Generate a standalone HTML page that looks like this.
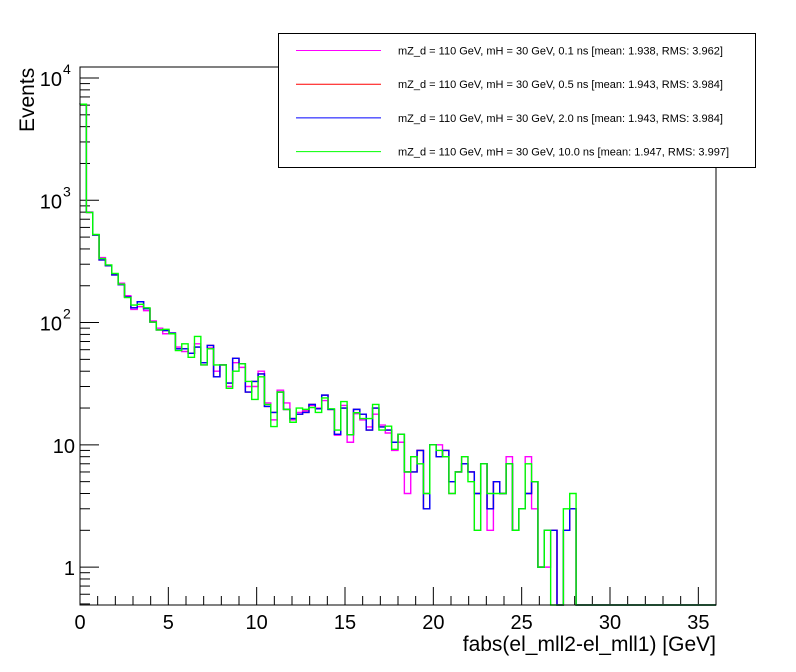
<!DOCTYPE html>
<html><head><meta charset="utf-8"><style>
body{margin:0;background:#fff;}
svg{display:block;font-family:"Liberation Sans",sans-serif;}
</style></head><body>
<svg id="chart" width="796" height="672" viewBox="0 0 796 672">
<rect width="796" height="672" fill="#fff"/>
<g id="axes"></g>
<g id="series"></g>
<rect x="80" y="67" width="636" height="538" fill="none" stroke="#000" stroke-width="1"/>
<g id="legend">
<rect x="278.5" y="33.5" width="477" height="134" fill="#fff" stroke="#000"/>
</g>
<text x="0" y="0" transform="translate(34,132) rotate(-90)" font-size="21">Events</text>
<text x="716" y="651" font-size="21" text-anchor="end">fabs(el_mll2-el_mll1) [GeV]</text>
</svg>
<script>
const nBins = 100;
const xMin = 0, xMax = 36;
const xTicks = [0,5,10,15,20,25,30,35];
const yDecades = [1,10,100,1000,10000];
const yLabels = ["1","10","10","10","10"];
const yExps = ["","","2","3","4"];
const legendLabels = [
 "mZ_d = 110 GeV, mH = 30 GeV, 0.1 ns [mean: 1.938, RMS: 3.962]",
 "mZ_d = 110 GeV, mH = 30 GeV, 0.5 ns [mean: 1.943, RMS: 3.984]",
 "mZ_d = 110 GeV, mH = 30 GeV, 2.0 ns [mean: 1.943, RMS: 3.984]",
 "mZ_d = 110 GeV, mH = 30 GeV, 10.0 ns [mean: 1.947, RMS: 3.997]"];
const seriesColors = ["#ff00ff","#ff0000","#0000ff","#00ff00"];
const greenVals = [6100,795,525,334,296,252,206,160,139,141,132,101,87,88,81,59,67,52,77,45,61,45,45,29,40,46,33,23.5,36,21.4,14.1,27,19.5,15.3,20,19.5,20.2,18.4,24.2,19.7,13.2,22.6,12.1,18.3,16.4,16.4,21.4,13.2,14.2,9.2,12.2,6,8,7,4,10,9,8,4,6,8,5,2,7,4,4,4,7,2,3,7,5,1,2,0,0,3,4,0,0,0,0,0,0,0,0,0,0,0,0,0,0,0,0,0,0,0,0,0,0,0,0];
const blueVals = [6100,795,520,325,292,245,204,162,132,148,130,101,87,86,82,61,61,56,63,47,65,36,45,32,51,46,27,33,38,20.6,18.4,27,19.5,16.4,17.8,18.4,21.4,19.7,25.5,19.5,12.2,20,12.1,19.5,17.8,13.2,20,14,13.2,10.5,12.2,6,6,9,3,10,8,9,5,6,7,6,4,7,3,5,4,7,2,3,4,5,1,2,2,0,2,3,0,0,0,0,0,0,0,0,0,0,0,0,0,0,0,0,0,0,0,0,0,0,0,0];
const redVals = blueVals;
const magentaVals = [6100,800,520,340,292,250,210,166,128,135,125,103,90,81,82,63,58,56,67,45,62,40,45,30,47,43,30,30,40,22,16,28,22,16,18.4,19,21,20,23,19.5,12,21,10.5,18,16,14,17.8,14.5,12.5,9,10.5,4,8,9,4,10,10,8,4,6,8,6,2,7,2,5,4,8,2,3,8,3,1,1,2,0,2,3,0,0,0,0,0,0,0,0,0,0,0,0,0,0,0,0,0,0,0,0,0,0,0,0];
const allSeries = [magentaVals, redVals, blueVals, greenVals];
const seriesNames = ["series-0p1ns","series-0p5ns","series-2p0ns","series-10p0ns"];

const X0=80, X1=716, Y0=605, Y1=67;
const logMin=Math.log10(0.49), logMax=4.09;
function xs(v){return X0+(v-xMin)/(xMax-xMin)*(X1-X0);}
function ys(v){ if(v<=0) return Y0; const y=Y0-(Math.log10(v)-logMin)/(logMax-logMin)*(Y0-Y1); return Math.min(Y0,y);}
const NS="http://www.w3.org/2000/svg";
function mk(tag,attrs,parent){const e=document.createElementNS(NS,tag);for(const k in attrs)e.setAttribute(k,attrs[k]);parent.appendChild(e);return e;}
const axes=document.getElementById('axes');
for(let i=0;i<=36;i++){
  const x=xs(i); const major=(i%5===0);
  const t=mk('line',{x1:x,x2:x,y1:Y0,y2:Y0-(major?18:9),stroke:'#000'},axes);
  
  
}
xTicks.forEach(v=>{
  const t=mk('text',{x:xs(v),y:Y0+24,'font-size':20,'text-anchor':'middle'},axes);
  t.textContent=v;
  
  
});
for(let d=-1;d<=4;d++){
  for(let m=1;m<=9;m++){
    const v=m*Math.pow(10,d); const lv=Math.log10(v);
    if(lv<logMin||lv>logMax) continue;
    const y=ys(v);
    const t=mk('line',{x1:X0,x2:X0+(m===1?19:10),y1:y,y2:y,stroke:'#000'},axes);
    
    
  }
}
yDecades.forEach((v,i)=>{
  const y=ys(v);
  const t=mk('text',{x:yExps[i]?62:75,y:y+8,'font-size':20,'text-anchor':'end'},axes);
  t.textContent=yLabels[i];
  
  
  if(yExps[i]){
    const s=mk('text',{x:63,y:y-4,'font-size':14},axes);
    s.textContent=yExps[i];
    
    
  }
});
const sg=document.getElementById('series');
const bw=(xMax-xMin)/nBins;
allSeries.forEach((vals,si)=>{
  let d='M'+xs(0)+','+ys(vals[0]);
  for(let i=0;i<nBins;i++){
    const y=ys(vals[i]);
    d+=' L'+xs(i*bw).toFixed(2)+','+y.toFixed(2)+' L'+xs((i+1)*bw).toFixed(2)+','+y.toFixed(2);
  }
  const p=mk('path',{d:d,fill:'none',stroke:seriesColors[si],'stroke-width':1.4},sg);
  
  
});
const lg=document.getElementById('legend');
legendLabels.forEach((lab,i)=>{
  const y=50.5+i*33.7;
  const l=mk('line',{x1:296,x2:381,y1:y,y2:y,stroke:seriesColors[i],'stroke-width':1},lg);
  
  
  const t=mk('text',{x:398,y:y+4,'font-size':11},lg);
  t.textContent=lab;
  
  
});
</script>
</body></html>
